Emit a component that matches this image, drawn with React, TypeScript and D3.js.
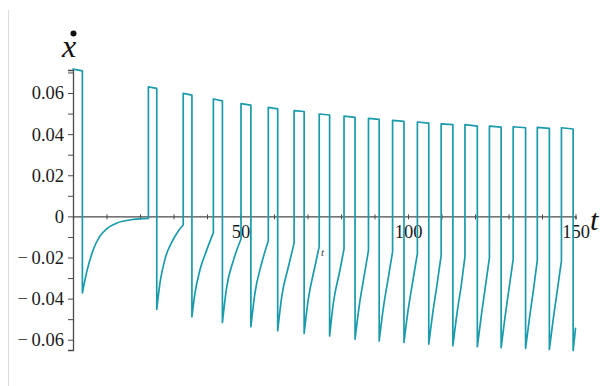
import React, { useEffect, useRef } from 'react';
import * as d3 from 'd3';

const W = 605;
const H = 386;
const M = { left: 73, right: 575.5, top: 70, bottom: 350 };

// pulse timing (t) and levels
const riseT = [0, 22.5, 32.9, 41.9, 50.15, 58.3, 66.0, 73.5, 80.9, 88.2, 95.4, 102.8, 109.9, 117.0, 124.3, 131.4, 138.6, 145.8];
const fallT = [2.8, 25.0, 35.5, 44.6, 53.1, 61.1, 69.0, 76.6, 84.2, 91.4, 98.8, 106.2, 113.4, 120.7, 127.8, 135.1, 142.2, 149.3];
const topStart = [0.0716, 0.063, 0.0598, 0.0571, 0.0548, 0.053, 0.0514, 0.0498, 0.0488, 0.0477, 0.0467, 0.0459, 0.045, 0.0446, 0.0439, 0.0436, 0.0433, 0.0431];
const topEnd = [0.0708, 0.0623, 0.059, 0.0562, 0.0541, 0.0523, 0.051, 0.0493, 0.0482, 0.0472, 0.0462, 0.0454, 0.0446, 0.0439, 0.0434, 0.0431, 0.0428, 0.0425];
const dipV = [-0.0372, -0.0452, -0.0488, -0.0516, -0.0537, -0.0556, -0.0569, -0.0582, -0.0597, -0.0606, -0.0613, -0.0621, -0.0629, -0.0634, -0.0638, -0.0642, -0.0647, -0.0652];

// recovery after each dip: [t, value] up to the next rise
const recovery: number[][][] = [
  [[4.1, -0.027], [6.1, -0.016], [8.1, -0.0095], [10.1, -0.006], [13.0, -0.0033], [18.0, -0.0015], [22.5, -0.001]],
  [[26.0, -0.032], [27.5, -0.0205], [29.5, -0.0125], [31.4, -0.0072], [32.9, -0.0042]],
  [[36.4, -0.0375], [37.9, -0.026], [39.9, -0.0164], [41.9, -0.008]],
  [[45.9, -0.0342], [47.9, -0.0213], [50.15, -0.011]],
  [[54.3, -0.0375], [56.3, -0.0229], [58.3, -0.0118]],
  [[62.3, -0.0391], [64.3, -0.0245], [66.0, -0.013]],
  [[70.2, -0.0407], [72.2, -0.0245], [73.5, -0.0146]],
  [[77.7, -0.0423], [79.7, -0.0261], [80.9, -0.0158]],
  [[85.4, -0.044], [86.8, -0.03], [88.2, -0.0166]],
  [[92.6, -0.045], [94.0, -0.031], [95.4, -0.0172]],
  [[100.0, -0.046], [101.4, -0.0318], [102.8, -0.0181]],
  [[107.4, -0.0468], [108.7, -0.0328], [109.9, -0.0188]],
  [[114.6, -0.0475], [115.9, -0.0335], [117.0, -0.0196]],
  [[121.9, -0.048], [123.1, -0.0342], [124.3, -0.0202]],
  [[129.0, -0.0485], [130.2, -0.0347], [131.4, -0.0208]],
  [[136.3, -0.049], [137.5, -0.0352], [138.6, -0.0213]],
  [[143.4, -0.0494], [144.6, -0.0356], [145.8, -0.0216]],
  [[150.0, -0.0545]],
];

const xTicks = [10, 20, 30, 40, 50, 60, 70, 80, 90, 100, 110, 120, 130, 140, 150];
const xLabels = [50, 100, 150];
const yTicks = [-0.06, -0.05, -0.04, -0.03, -0.02, -0.01, 0, 0.01, 0.02, 0.03, 0.04, 0.05, 0.06, 0.07];
const yLabels = [-0.06, -0.04, -0.02, 0, 0.02, 0.04, 0.06];

const LINE = '#1a9bab';
const AXIS = '#4a4a4a';
const SERIF = "'Liberation Serif', 'Times New Roman', serif";

export default function App() {
  const ref = useRef<SVGSVGElement | null>(null);

  useEffect(() => {
    const svg = d3.select(ref.current);
    svg.selectAll('*').remove();

    const x = d3.scaleLinear().domain([0, 150]).range([M.left, M.right]);
    const y = d3.scaleLinear().domain([-0.065, 0.0712]).range([M.bottom, M.top]);

    // frame edge on the left
    svg.append('line').attr('x1', 8.5).attr('x2', 8.5).attr('y1', 10).attr('y2', H)
      .attr('stroke', '#dcdcdc').attr('stroke-width', 1);

    // x axis
    const xAxis = svg.append('g').attr('transform', `translate(0,${y(0)})`)
      .call(d3.axisBottom(x).tickValues(xTicks).tickSizeOuter(0).tickSize(3).tickPadding(6)
        .tickFormat((d) => (xLabels.includes(d as number) ? String(d) : '')));
    xAxis.attr('font-family', null).style('font-family', SERIF);
    xAxis.select('.domain').attr('stroke', AXIS).attr('stroke-width', 1.3);
    xAxis.selectAll('.tick line').attr('stroke', AXIS).attr('y1', -2);
    xAxis.selectAll('text').attr('fill', '#1a1a1a').attr('font-size', 18.5).style('font-family', SERIF);

    // y axis
    const fmt = (v: number) => (v === 0 ? '0' : v < 0 ? '\u2212\u2009' + Math.abs(v).toFixed(2) : v.toFixed(2));
    const yAxis = svg.append('g').attr('transform', `translate(${M.left},0)`)
      .call(d3.axisLeft(y).tickValues(yTicks).tickSizeOuter(0).tickSize(5).tickPadding(4)
        .tickFormat((d) => {
          const v = d as number;
          return yLabels.some((l) => Math.abs(l - v) < 1e-9) ? fmt(v) : '';
        }));
    yAxis.attr('font-family', null).style('font-family', SERIF);
    yAxis.select('.domain').attr('stroke', AXIS).attr('stroke-width', 1.3);
    yAxis.selectAll('.tick line').attr('stroke', AXIS);
    yAxis.selectAll('text').attr('fill', '#1a1a1a').attr('font-size', 18.5).style('font-family', SERIF);

    // curve
    const lin = d3.line<number[]>().x((d) => x(d[0])).y((d) => y(d[1]));
    const smooth = d3.line<number[]>().x((d) => x(d[0])).y((d) => y(d[1])).curve(d3.curveMonotoneX);
    let dStr = '';
    riseT.forEach((r, k) => {
      const pts: number[][] = [];
      if (k > 0) {
        const prev = recovery[k - 1];
        pts.push([r, prev[prev.length - 1][1]]);
      }
      pts.push([r, topStart[k]], [fallT[k], topEnd[k]], [fallT[k], dipV[k]]);
      dStr += lin(pts);
      dStr += smooth([[fallT[k], dipV[k]], ...recovery[k]]);
    });
    svg.append('path').attr('d', dStr).attr('fill', 'none').attr('stroke', LINE)
      .attr('stroke-width', 1.7).attr('stroke-linejoin', 'round').attr('stroke-linecap', 'round');

    // axis titles
    svg.append('text').attr('x', 590).attr('y', 230).style('font-family', SERIF)
      .attr('font-style', 'italic').attr('font-size', 30).attr('fill', '#111').text('t');
    svg.append('text').attr('x', 62).attr('y', 57).style('font-family', SERIF)
      .attr('font-style', 'italic').attr('font-size', 32).attr('fill', '#111').text('x');
    svg.append('circle').attr('cx', 73.5).attr('cy', 33.5).attr('r', 3).attr('fill', '#111');
    svg.append('text').attr('x', 321).attr('y', 256).style('font-family', SERIF)
      .attr('font-style', 'italic').attr('font-size', 11).attr('fill', '#444').text('t');
  }, []);

  return (
    <svg ref={ref} width={W} height={H} style={{ position: 'absolute', left: 0, top: 0, background: '#fff' }} />
  );
}
